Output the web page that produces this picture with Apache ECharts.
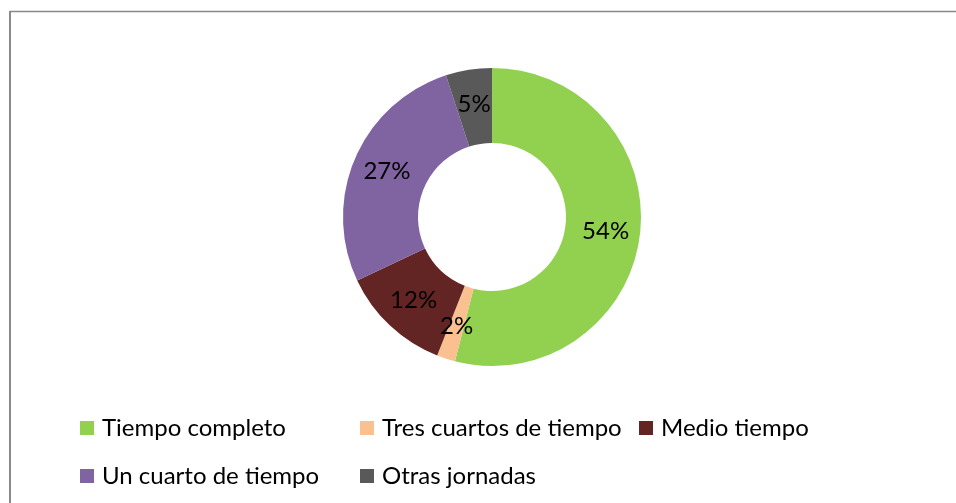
<!DOCTYPE html>
<html>
<head>
<meta charset="utf-8">
<script src="https://cdn.jsdelivr.net/npm/echarts@6/dist/echarts.min.js"></script>
<style>
  html, body { margin: 0; padding: 0; background: #fff; }
  #chart { width: 956px; height: 503px; }
</style>
</head>
<body>
<div id="chart"></div>
<script>
// datos de la gráfica
const categorias = ['Tiempo completo', 'Tres cuartos de tiempo', 'Medio tiempo', 'Un cuarto de tiempo', 'Otras jornadas'];
const valores = [54, 2, 12, 27, 5];
const colores = ['#92D050', '#FAC090', '#632523', '#8064A2', '#595959'];

const fuente = 'Lato';
const chart = echarts.init(document.getElementById('chart'));

// leyenda en columnas, como en el original
const legendBase = {
  orient: 'vertical',
  top: 416,
  padding: 0,
  itemWidth: 14,
  itemHeight: 14,
  itemGap: 24,
  icon: 'rect',
  selectedMode: false,
  textStyle: { fontFamily: fuente, fontSize: 24, color: '#000', lineHeight: 24, padding: [0, 0, 0, 3] }
};

chart.setOption({
  animation: false,
  color: colores,
  graphic: [
    { type: 'line', shape: { x1: 10, y1: 11.5, x2: 960, y2: 11.5 }, style: { stroke: '#898989', lineWidth: 1.5 } },
    { type: 'line', shape: { x1: 10, y1: 11, x2: 10, y2: 510 }, style: { stroke: '#898989', lineWidth: 2 } }
  ],
  legend: [
    Object.assign({}, legendBase, { left: 80, data: [categorias[0], categorias[3]] }),
    Object.assign({}, legendBase, { left: 360, data: [categorias[1], categorias[4]] }),
    Object.assign({}, legendBase, { left: 639, data: [categorias[2]] })
  ],
  series: [{
    type: 'pie',
    center: [492, 217],
    radius: [74, 149],
    startAngle: 90,
    clockwise: true,
    label: {
      show: true,
      position: 'inside',
      formatter: '{c}%',
      fontFamily: fuente,
      fontSize: 24,
      color: '#000'
    },
    labelLine: { show: false },
    emphasis: { disabled: true },
    data: categorias.map((n, i) => ({ name: n, value: valores[i] }))
  }]
});
</script>
</body>
</html>
